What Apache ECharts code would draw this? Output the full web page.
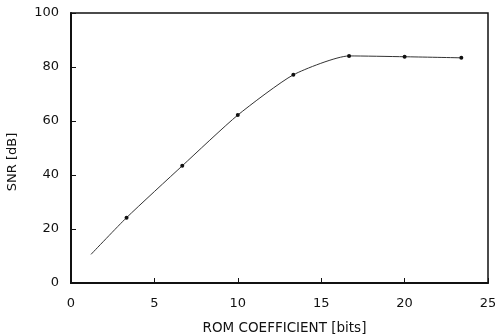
<!DOCTYPE html>
<html>
<head>
<meta charset="utf-8">
<script src="https://cdn.jsdelivr.net/npm/echarts@6/dist/echarts.min.js"></script>
<style>
  html, body { margin: 0; padding: 0; background: #fff; }
  #chart { width: 495px; height: 334px; }
</style>
</head>
<body>
<div id="chart"></div>
<script>
// ROM coefficient wordlength vs SNR
const bits = [1.2, 3.33, 6.67, 10, 13.33, 16.67, 20, 23.4]
const snr = [10.6, 24.2, 43.4, 62.2, 77.1, 84.1, 83.8, 83.4]
const marked = [false, true, true, true, true, true, true, true]

const dom = echarts.init(document.getElementById('chart'))

const axisText = {
  color: '#111',
  fontFamily: 'DejaVu Sans',
  fontSize: 13
}

const option = {
  animation: false,
  backgroundColor: '#fff',
  grid: {
    left: 71,
    top: 13,
    right: 7,
    bottom: 51,
    outerBoundsMode: 'none',
    show: true,
    borderColor: '#111',
    borderWidth: 1.5
  },
  xAxis: {
    type: 'value',
    min: 0,
    max: 25,
    interval: 5,
    name: 'ROM COEFFICIENT [bits]',
    nameLocation: 'middle',
    nameGap: 38,
    nameTextStyle: { color: '#111', fontFamily: 'DejaVu Sans', fontSize: 13.5, padding: [0, 0, 0, 10] },
    axisLine: { lineStyle: { color: '#111', width: 2 } },
    axisTick: { inside: true, length: 5, lineStyle: { color: '#111' } },
    axisLabel: Object.assign({ margin: 14 }, axisText),
    splitLine: { show: false }
  },
  yAxis: {
    type: 'value',
    min: 0,
    max: 100,
    interval: 20,
    name: 'SNR [dB]',
    nameLocation: 'middle',
    nameGap: 52,
    nameTextStyle: { color: '#111', fontFamily: 'DejaVu Sans', fontSize: 13, padding: [0, 0, 0, -28] },
    axisLine: { lineStyle: { color: '#111', width: 2 } },
    axisTick: { inside: true, length: 5, lineStyle: { color: '#111' } },
    axisLabel: Object.assign({ margin: 12 }, axisText),
    splitLine: { show: false }
  },
  series: [{
    type: 'line',
    smooth: 0.2,
    data: bits.map((b, i) => ({
      value: [b, snr[i]],
      symbolSize: marked[i] ? 4 : 0
    })),
    symbol: 'circle',
    itemStyle: { color: '#111' },
    lineStyle: { color: '#333', width: 1 }
  }]
}

dom.setOption(option)
</script>
</body>
</html>
